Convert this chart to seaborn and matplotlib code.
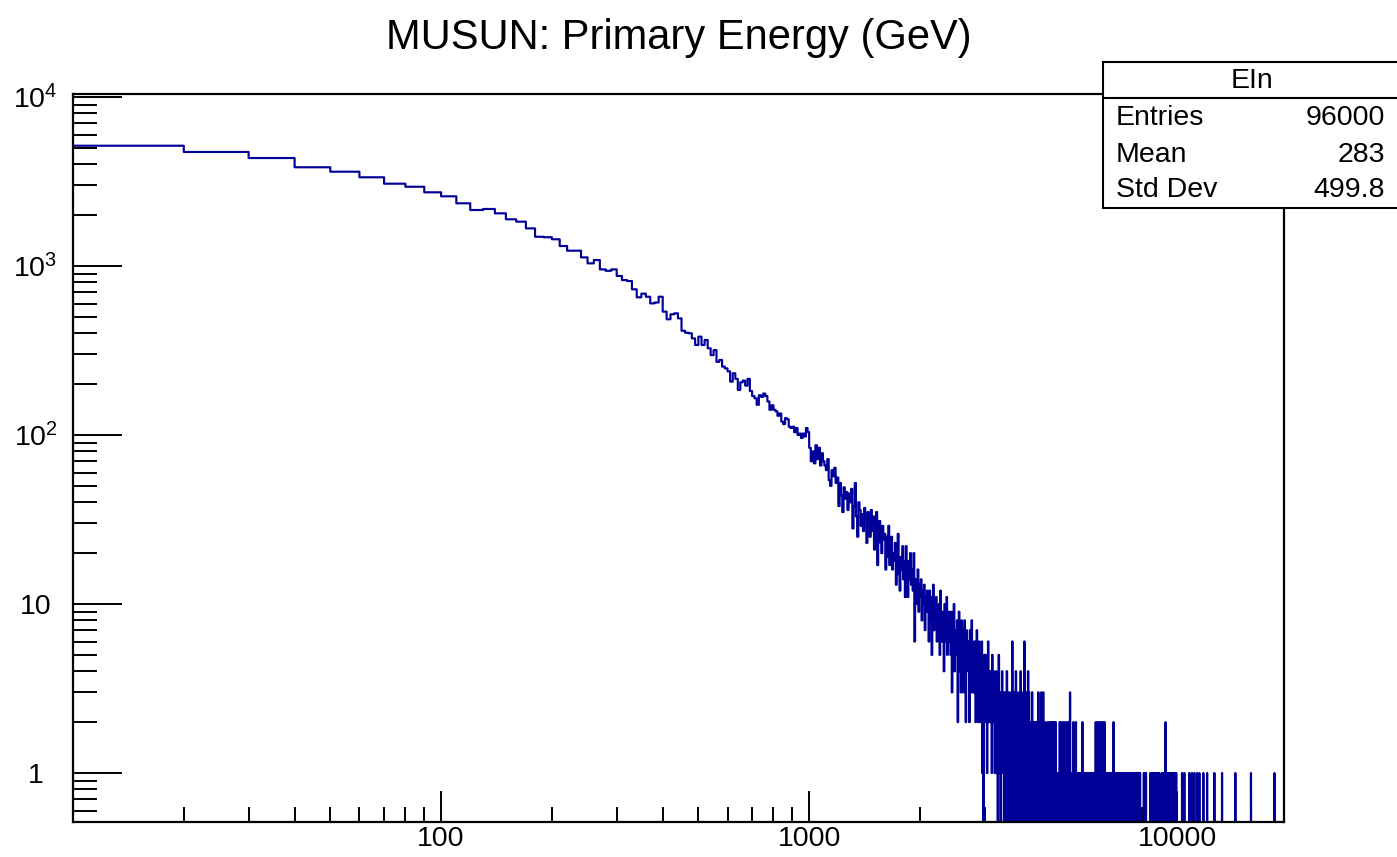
import numpy as np
import pandas as pd
import matplotlib
matplotlib.use("Agg")
import matplotlib.pyplot as plt
import seaborn as sns
from matplotlib.ticker import FixedLocator, FixedFormatter, LogLocator, NullFormatter
from matplotlib.patches import Rectangle
from matplotlib.lines import Line2D

# ---------------- data (10 GeV bins, counts) ----------------
BIN_WIDTH = 10
FIRST_BIN = 10
LAST_EDGE = 19500

counts_10_90 = [5150, 4730, 4355, 3840, 3615, 3350, 3070, 2945, 2730]
counts_100s = [2585, 2350, 2145, 2175, 2050, 1890, 1830, 1670, 1490, 1480]
counts_200s = [1440, 1313, 1232, 1232, 1125, 1037, 1085, 955, 937, 955]
counts_300s = [873, 826, 815, 728, 653, 686, 658, 601, 608, 658]
counts_400s = [537, 484, 518, 525, 490, 414, 403, 400, 373, 341]
counts_500s = [382, 341, 365, 326, 297, 318, 271, 278, 254, 248]
counts_600s = [238, 207, 232, 215, 185, 205, 210, 196, 215, 182]
counts_700s = [170, 165, 151, 172, 168, 176, 170, 158, 141, 150]
counts_800s = [141, 138, 130, 134, 120, 116, 126, 124, 112, 110]
counts_900s = [112, 104, 110, 100, 102, 96, 102, 98, 110, 104]

counts_1000s = [
    84, 70, 80, 68, 87, 72, 84, 66, 78, 70,
    66, 62, 72, 54, 50, 62, 57, 64, 52, 56,
    38, 52, 44, 35, 49, 42, 46, 36, 45, 40,
    48, 28, 38, 52, 33, 25, 40, 36, 29, 34,
    27, 37, 32, 23, 35, 30, 25, 36, 27, 33,
    21, 28, 35, 17, 26, 31, 23, 20, 29, 24,
    26, 16, 25, 19, 29, 17, 22, 25, 16, 20,
    18, 23, 13, 20, 26, 15, 12, 19, 16, 22,
    14, 18, 11, 22, 15, 11, 18, 14, 20, 13,
    16, 12, 20, 6, 14, 12, 10, 16, 9, 13]

counts_2000s = [
    11, 14, 8, 12, 10, 13, 7, 11, 9, 12,
    10, 6, 12, 8, 11, 5, 9, 13, 7, 10,
    8, 11, 6, 9, 7, 10, 5, 12, 8, 6,
    9, 7, 4, 10, 6, 8, 11, 5, 7, 9,
    6, 8, 5, 9, 3, 7, 6, 10, 4, 7,
    7, 5, 8, 2, 6, 9, 4, 6, 3, 8,
    5, 7, 3, 6, 8, 4, 2, 7, 5, 6,
    4, 6, 2, 7, 5, 3, 8, 4, 6, 3,
    5, 3, 6, 2, 4, 7, 3, 5, 2, 6,
    4, 2, 5, 3, 6, 1, 4, 0, 3, 5]

counts_3000s = [
    3, 5, 2, 4, 1, 3, 6, 2, 4, 3,
    2, 4, 3, 1, 5, 2, 3, 4, 2, 1,
    3, 2, 4, 1, 3, 0, 2, 5, 1, 3,
    2, 0, 3, 1, 4, 2, 1, 3, 0, 2,
    1, 3, 2, 0, 4, 1, 2, 0, 3, 1,
    2, 1, 0, 3, 1, 2, 6, 1, 0, 2,
    1, 3, 0, 2, 4, 0, 3, 1, 2, 0,
    2, 1, 3, 0, 1, 4, 0, 1, 3, 1,
    0, 2, 1, 0, 6, 1, 2, 0, 1, 3,
    1, 0, 2, 4, 0, 3, 1, 0, 2, 1]

counts_4000s = [
    2, 0, 1, 3, 0, 1, 2, 0, 1, 0,
    1, 2, 0, 1, 0, 2, 1, 0, 1, 3,
    0, 1, 0, 2, 1, 0, 1, 3, 0, 1,
    1, 0, 3, 0, 1, 1, 0, 2, 0, 1,
    0, 1, 0, 1, 2, 0, 1, 0, 1, 0,
    2, 0, 1, 0, 2, 1, 0, 1, 2, 0,
    1, 0, 2, 0, 1, 0, 1, 2, 0, 1,
    0, 1, 0, 1, 0, 1, 0, 0, 1, 2,
    0, 1, 2, 0, 1, 0, 1, 0, 2, 0,
    1, 0, 1, 0, 2, 0, 1, 0, 1, 0]

counts_5000s = [
    1, 2, 0, 1, 0, 1, 0, 2, 0, 1,
    0, 3, 1, 0, 1, 0, 1, 0, 1, 0,
    1, 0, 2, 0, 1, 0, 1, 0, 0, 1,
    2, 0, 1, 0, 0, 1, 0, 1, 0, 1,
    0, 1, 0, 1, 0, 0, 1, 0, 1, 0,
    1, 0, 2, 0, 1, 0, 1, 0, 0, 1,
    0, 1, 0, 0, 1, 0, 1, 0, 1, 0,
    1, 0, 0, 1, 0, 1, 0, 0, 1, 0,
    0, 1, 0, 1, 0, 0, 1, 0, 1, 0,
    1, 0, 1, 0, 0, 1, 0, 1, 0, 0]

counts_6000s = [
    2, 0, 1, 0, 1, 0, 0, 2, 0, 1,
    0, 1, 0, 2, 0, 1, 0, 0, 1, 0,
    2, 0, 1, 0, 0, 1, 0, 2, 0, 1,
    0, 1, 0, 0, 2, 0, 1, 0, 0, 1,
    0, 1, 0, 0, 1, 0, 0, 1, 0, 1,
    0, 0, 1, 0, 1, 0, 0, 1, 0, 0,
    1, 0, 0, 1, 0, 0, 1, 0, 1, 0,
    0, 2, 0, 0, 1, 0, 1, 0, 0, 1,
    0, 0, 1, 0, 0, 1, 0, 0, 1, 0,
    0, 1, 0, 0, 0, 1, 0, 1, 0, 0]

# sparse tail: low edge of every non-empty bin from 7000 GeV up, and its count
tail_energy = [7010, 7040, 7060, 7090, 7130, 7150, 7200, 7230, 7270, 7300,
               7340, 7380, 7410, 7440, 7470, 7520, 7550, 7590, 7620, 7660,
               7700, 7730, 7780, 7810, 7850, 7880, 7920, 8110, 8150, 8180,
               8220, 8450, 8490, 8520, 8560, 8600, 8630, 8680, 8720, 8760,
               8800, 8840, 8880, 8920, 9070, 9110, 9150, 9200, 9240, 9290,
               9330, 9370, 9420, 9460, 9510, 9560, 9610, 9650, 9700, 9760,
               9810, 9870, 9930, 10300, 10450, 10780, 10960, 11120, 11310, 11480,
               11770, 12050, 12610, 13230, 14380, 15860, 18380]
tail_count = [1, 1, 1, 1, 1, 1, 1, 1, 1, 1,
              1, 1, 1, 1, 1, 1, 1, 1, 1, 1,
              1, 1, 1, 1, 1, 1, 1, 1, 1, 1,
              1, 1, 1, 1, 1, 1, 1, 1, 1, 1,
              1, 1, 1, 1, 1, 1, 1, 1, 1, 2,
              1, 1, 1, 1, 1, 1, 1, 1, 1, 1,
              1, 1, 1, 1, 1, 1, 1, 1, 1, 1,
              1, 1, 1, 1, 1, 1, 1]

stats_title = "EIn"
stats_labels = ["Entries", "Mean", "Std Dev"]
stats_values = ["96000", "283", "499.8"]
title_text = "MUSUN: Primary Energy (GeV)"
y_major = [1, 10, 100, 1000, 10000]
y_major_labels = ["1", "10", "$10^{2}$", "$10^{3}$", "$10^{4}$"]
x_major = [100, 1000, 10000]
x_major_labels = ["100", "1000", "10000"]

# ---------------- assemble histogram ----------------
dense = (counts_10_90 + counts_100s + counts_200s + counts_300s + counts_400s +
         counts_500s + counts_600s + counts_700s + counts_800s + counts_900s +
         counts_1000s + counts_2000s + counts_3000s + counts_4000s +
         counts_5000s + counts_6000s)
low_edges = np.arange(FIRST_BIN, LAST_EDGE, BIN_WIDTH)
counts = np.zeros(len(low_edges))
counts[:len(dense)] = dense
for e, c in zip(tail_energy, tail_count):
    counts[(e - FIRST_BIN) // BIN_WIDTH] = c

YMIN, YMAX = 0.513, 10420
xs = np.append(low_edges, LAST_EDGE)
ys = np.append(counts, counts[-1])
ys = np.where(ys > 0, ys, 1e-3)  # empty bins drop to the bottom of the frame
df = pd.DataFrame({"E": xs, "N": ys})

# ---------------- style ----------------
sns.set_theme(style="white")
plt.rcParams['font.family'] = ['Liberation Sans', 'DejaVu Sans']
plt.rcParams['mathtext.fontset'] = 'custom'
plt.rcParams['mathtext.rm'] = 'Liberation Sans'
plt.rcParams['mathtext.it'] = 'Liberation Sans:italic'
plt.rcParams['mathtext.default'] = 'regular'

W, H = 1397, 857
fig = plt.figure(figsize=(W / 100, H / 100), dpi=100)
fig.patch.set_facecolor("white")
L, R, T, B = 73, 1284, 94, 822
ax = fig.add_axes([L / W, 1 - B / H, (R - L) / W, (B - T) / H])

sns.lineplot(data=df, x="E", y="N", drawstyle="steps-post", color="#000099",
             linewidth=1.55, estimator=None, sort=False, ax=ax)
ax.set_xscale("log")
ax.set_yscale("log")
ax.set_xlim(10, LAST_EDGE)
ax.set_ylim(YMIN, YMAX)
ax.set_xlabel("")
ax.set_ylabel("")

for s in ax.spines.values():
    s.set_color("black")
    s.set_linewidth(1.6)
    s.set_zorder(5)

ax.xaxis.set_major_locator(FixedLocator(x_major))
ax.xaxis.set_major_formatter(FixedFormatter(x_major_labels))
ax.xaxis.set_minor_locator(LogLocator(base=10, subs=np.arange(2, 10), numticks=20))
ax.xaxis.set_minor_formatter(NullFormatter())
ax.yaxis.set_major_locator(FixedLocator(y_major))
ax.yaxis.set_major_formatter(FixedFormatter(y_major_labels))
ax.yaxis.set_minor_locator(LogLocator(base=10, subs=np.arange(2, 10), numticks=20))
ax.yaxis.set_minor_formatter(NullFormatter())

ax.tick_params(axis="both", which="both", direction="in", bottom=True, left=True,
               top=False, right=False, color="black", width=1.4,
               labelsize=20.5, labelcolor="black")
ax.tick_params(axis="x", which="major", length=22, pad=3)
ax.tick_params(axis="x", which="minor", length=11)
ax.tick_params(axis="y", which="major", length=35, pad=27)
ax.tick_params(axis="y", which="minor", length=17)
for lab in ax.get_yticklabels():
    lab.set_horizontalalignment("center")

fig.text(679 / W, 1 - 38 / H, title_text, ha="center", va="center",
         fontsize=30, color="black")

# ---------------- statistics box ----------------
bx0, by0, bx1, by1 = 1103, 62, 1400, 208
fig.patches.append(Rectangle((bx0 / W, 1 - by1 / H), (bx1 - bx0) / W, (by1 - by0) / H,
                             transform=fig.transFigure, facecolor="white",
                             edgecolor="black", linewidth=1.5, zorder=10))
fig.lines.append(Line2D([bx0 / W, 1.0], [1 - 97.5 / H, 1 - 97.5 / H],
                        transform=fig.transFigure, color="black", linewidth=1.5, zorder=11))
fig.text(1252 / W, 1 - 81 / H, stats_title, ha="center", va="center",
         fontsize=20.5, color="black", zorder=12)
row_y = [118, 155, 190]
for yy, lab, val in zip(row_y, stats_labels, stats_values):
    fig.text(1116 / W, 1 - yy / H, lab, ha="left", va="center", fontsize=20.5,
             color="black", zorder=12)
    fig.text(1385 / W, 1 - yy / H, val, ha="right", va="center", fontsize=20.5,
             color="black", zorder=12)

fig.savefig("out.png", dpi=100, facecolor="white")
